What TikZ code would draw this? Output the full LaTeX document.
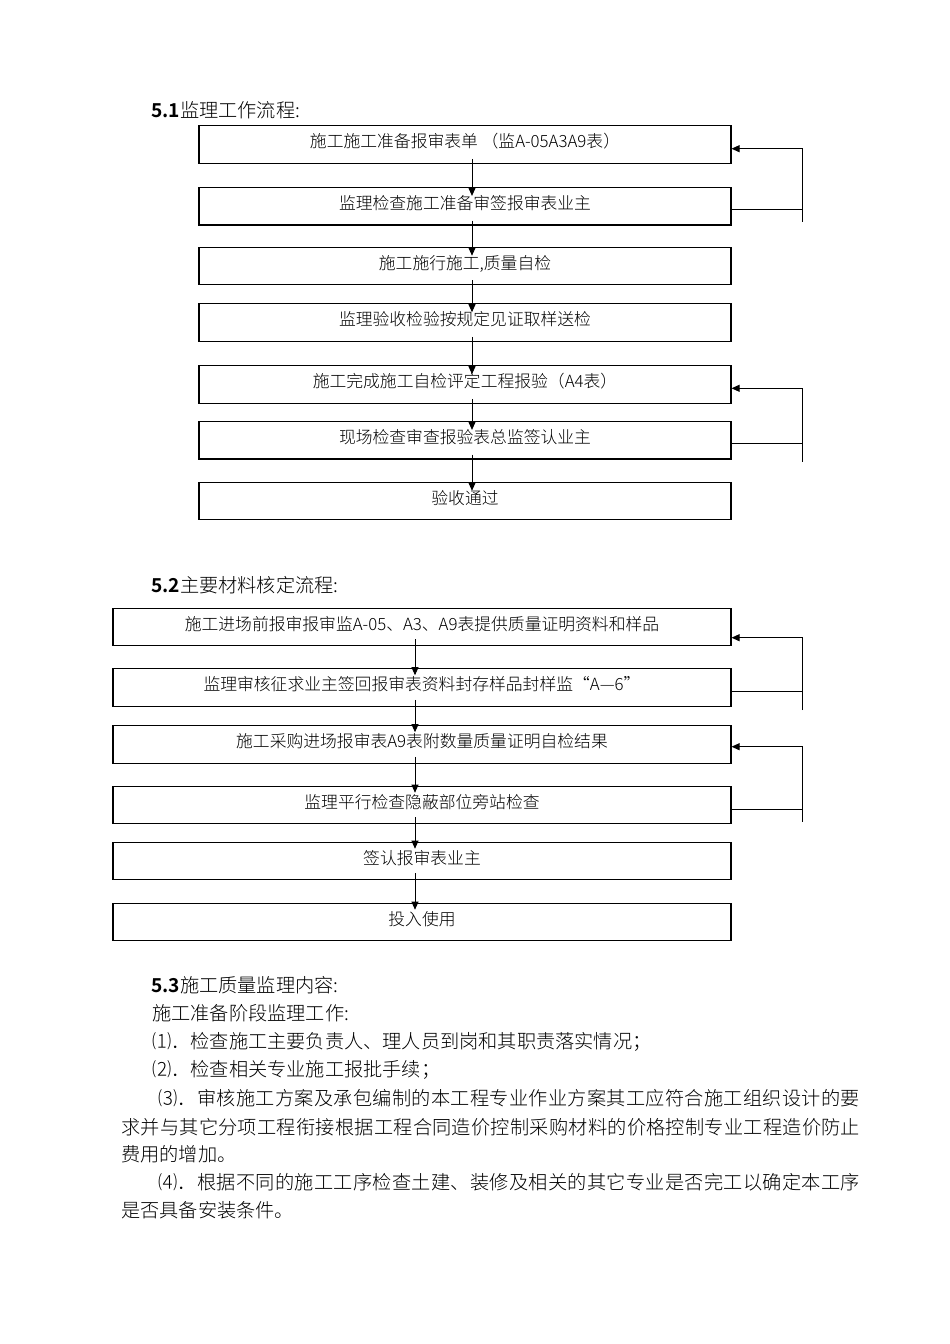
\documentclass[tikz,border=0pt]{standalone}
\usepackage{fontspec}
\setmainfont{Noto Sans CJK SC}[UprightFont=* Light, BoldFont=* Bold]
\usetikzlibrary{arrows.meta,calc}
\newcommand\bodysz{\fontsize{19.2}{23}\selectfont}
\newcommand\boxsz{\fontsize{16.8}{20}\selectfont}
\def\spreadchars#1{\spreadaux#1\relax}
\def\spreadaux#1{\ifx\relax#1\else #1\hskip 0pt plus 1fil\expandafter\spreadaux\fi}
\newcommand\spreadline[2]{\hbox to #1{\spreadchars{#2}\unskip}}
\tikzset{
  stepbox/.style={draw, line width=1.1pt, minimum height=37.5pt, inner sep=0pt,
    font=\boxsz, text height=13pt, text depth=7pt},
  wideA/.style={stepbox, minimum width=532pt},
  wideB/.style={stepbox, minimum width=618pt},
  flow/.style={-{Triangle[length=8pt,width=7pt]}, line width=0.9pt},
  conn/.style={line width=0.9pt},
  txt/.style={anchor=west, inner sep=0pt, font=\bodysz},
}
\begin{document}
\begin{tikzpicture}[x=1pt,y=-1pt]
\useasboundingbox[fill=white] (0,0) rectangle (950,1344);

% headings
\node[txt] (h1) at (151,110) {{\bfseries 5.1}监理工作流程:};
\node[txt] (h2) at (151,585) {{\bfseries 5.2}主要材料核定流程:};

% chart 1
\node[wideA] (b1) at (465,144.5) {施工施工准备报审表单 （监A-05A3A9表）};
\node[wideA] (b2) at (465,206.2) {监理检查施工准备审签报审表业主};
\node[wideA] (b3) at (465,266) {施工施行施工,质量自检};
\node[wideA] (b4) at (465,322.5) {监理验收检验按规定见证取样送检};
\node[wideA] (b5) at (465,384.5) {施工完成施工自检评定工程报验（A4表）};
\node[wideA] (b6) at (465,440.2) {现场检查审查报验表总监签认业主};
\node[wideA] (b7) at (465,501) {验收通过};

\foreach \a/\b in {b1/b2,b2/b3,b3/b4,b4/b5,b5/b6,b6/b7}
  \draw[flow] ($(\a.south)+(7,-5)$) -- ($(\b.north)+(7,9)$);

\coordinate (r1t) at (802,148.7);
\coordinate (r1m) at (802,209.3);
\coordinate (r1b) at (802,221.7);
\draw[flow] (r1b) -- (r1t) -- (b1.east |- r1t);
\draw[conn] (b2.east |- r1m) -- (r1m);

\coordinate (r2t) at (802,388.3);
\coordinate (r2m) at (802,443.3);
\coordinate (r2b) at (802,461.7);
\draw[flow] (r2b) -- (r2t) -- (b5.east |- r2t);
\draw[conn] (b6.east |- r2m) -- (r2m);

% chart 2
\node[wideB] (c1) at (422,627) {施工进场前报审报审监A-05、A3、A9表提供质量证明资料和样品};
\node[wideB] (c2) at (422,687.5) {监理审核征求业主签回报审表资料封存样品封样监“A—6”};
\node[wideB] (c3) at (422,744.5) {施工采购进场报审表A9表附数量质量证明自检结果};
\node[wideB] (c4) at (422,805) {监理平行检查隐蔽部位旁站检查};
\node[wideB] (c5) at (422,861) {签认报审表业主};
\node[wideB] (c6) at (422,922) {投入使用};

\foreach \a/\b in {c1/c2,c2/c3,c3/c4,c4/c5,c5/c6}
  \draw[flow] ($(\a.south)+(-7,-7)$) -- ($(\b.north)+(-7,7)$);

\coordinate (r3t) at (802,637.7);
\coordinate (r3m) at (802,691.7);
\coordinate (r3b) at (802,710);
\draw[flow] (r3b) -- (r3t) -- (c1.east |- r3t);
\draw[conn] (c2.east |- r3m) -- (r3m);

\coordinate (r4t) at (802,746.7);
\coordinate (r4m) at (802,809.3);
\coordinate (r4b) at (802,821.7);
\draw[flow] (r4b) -- (r4t) -- (c3.east |- r4t);
\draw[conn] (c4.east |- r4m) -- (r4m);

% text section 5.3
\node[txt] (t0) at (151,985) {{\bfseries 5.3}施工质量监理内容:};
\node[txt] (t1) at (152,1013) {施工准备阶段监理工作:};
\node[txt] (t2) at (152,1042) {⑴．检查施工主要负责人、理人员到岗和其职责落实情况；};
\node[txt] (t3) at (152,1070) {⑵．检查相关专业施工报批手续；};
\node[txt] (t4) at (158,1098) {\spreadline{702pt}{⑶．审核施工方案及承包编制的本工程专业作业方案其工应符合施工组织设计的要}};
\node[txt] (t5) at (121,1127) {\spreadline{739pt}{求并与其它分项工程衔接根据工程合同造价控制采购材料的价格控制专业工程造价防止}};
\node[txt] (t6) at (121,1154) {费用的增加。};
\node[txt] (t7) at (158,1182) {\spreadline{702pt}{⑷．根据不同的施工工序检查土建、装修及相关的其它专业是否完工以确定本工序}};
\node[txt] (t8) at (121,1210) {是否具备安装条件。};
\end{tikzpicture}
\end{document}
